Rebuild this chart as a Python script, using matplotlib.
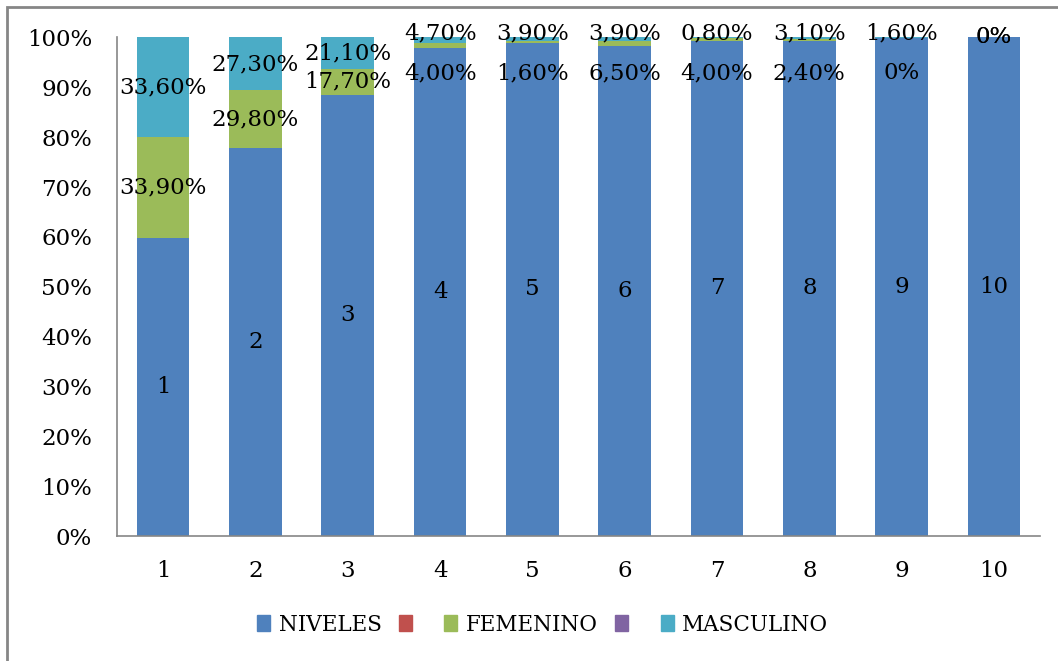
import matplotlib.pyplot as plt
from matplotlib.patches import Patch, Rectangle
import numpy as np

# data
categorias = ['1', '2', '3', '4', '5', '6', '7', '8', '9', '10']
niveles = [1, 2, 3, 4, 5, 6, 7, 8, 9, 10]
femenino = [33.9, 29.8, 17.7, 4.0, 1.6, 6.5, 4.0, 2.4, 0.0, 0.0]      # %
masculino = [33.6, 27.3, 21.1, 4.7, 3.9, 3.9, 0.8, 3.1, 1.6, 0.0]     # %
vacio = [0] * 10   # the two unnamed series (red / purple)

colores = {'NIVELES': '#4F81BD', 'rojo': '#C0504D', 'FEMENINO': '#9BBB59',
           'morado': '#8064A2', 'MASCULINO': '#4BACC6'}

plt.rcParams['font.family'] = ['DejaVu Serif']
fs = 16.5


def etiqueta(v):
    if v == 0:
        return '0%'
    return ('%.2f' % v).replace('.', ',') + '%'


niv = np.array(niveles, dtype=float)
fem = np.array(femenino) / 100
mas = np.array(masculino) / 100
total = niv + fem + mas
p_niv = niv / total * 100
p_fem = fem / total * 100
p_mas = mas / total * 100

x = np.arange(len(categorias))
w = 0.57

fig = plt.figure(figsize=(10.58, 6.61), dpi=100)
ax = fig.add_axes([0.1106, 0.1891, 0.8724, 0.7542])

ax.bar(x, p_niv, w, color=colores['NIVELES'])
ax.bar(x, p_fem, w, bottom=p_niv, color=colores['FEMENINO'])
ax.bar(x, p_mas, w, bottom=p_niv + p_fem, color=colores['MASCULINO'])

# data labels (small segments get pushed apart like in the original)
for i in x:
    ax.text(i, p_niv[i] / 2, str(niveles[i]), ha='center', va='center', fontsize=fs)
    if p_fem[i] + p_mas[i] == 0:
        y_f = y_m = 100
    elif p_fem[i] + p_mas[i] < 5:
        y_f, y_m = 92.8, 100.9
    else:
        y_f = p_niv[i] + p_fem[i] / 2
        y_m = p_niv[i] + p_fem[i] + p_mas[i] / 2
    ax.text(i, y_f, etiqueta(femenino[i]), ha='center', va='center', fontsize=fs)
    ax.text(i, y_m, etiqueta(masculino[i]), ha='center', va='center', fontsize=fs)

ax.set_xlim(-0.5, len(categorias) - 0.5)
ax.set_ylim(0, 100)
ax.set_xticks(x)
ax.set_xticklabels(categorias)
ax.set_yticks(np.arange(0, 101, 10))
ax.set_yticklabels(['%d%%' % v for v in range(0, 101, 10)])
ax.tick_params(axis='both', length=0, labelsize=fs)
ax.tick_params(axis='y', pad=18)
ax.tick_params(axis='x', pad=17)
for s in ['top', 'right']:
    ax.spines[s].set_visible(False)
for s in ['left', 'bottom']:
    ax.spines[s].set_color('#868686')
    ax.spines[s].set_linewidth(1.2)

handles = [Patch(color=colores[k]) for k in ['NIVELES', 'rojo', 'FEMENINO', 'morado', 'MASCULINO']]
labels = ['NIVELES', ' ', 'FEMENINO', ' ', 'MASCULINO']
fig.legend(handles, labels, loc='center', bbox_to_anchor=(0.513, 0.055), ncol=5,
           frameon=False, fontsize=15.5, handlelength=0.6, handleheight=0.75,
           handletextpad=0.4, columnspacing=0.8)

# chart area border (cut off at right and bottom)
fig.patches.append(Rectangle((7 / 1058, -0.1), 1.2, 0.1 + 1 - 7 / 661, transform=fig.transFigure,
                             fill=False, edgecolor='#868686', linewidth=2))

fig.savefig('out.png', dpi=100)
